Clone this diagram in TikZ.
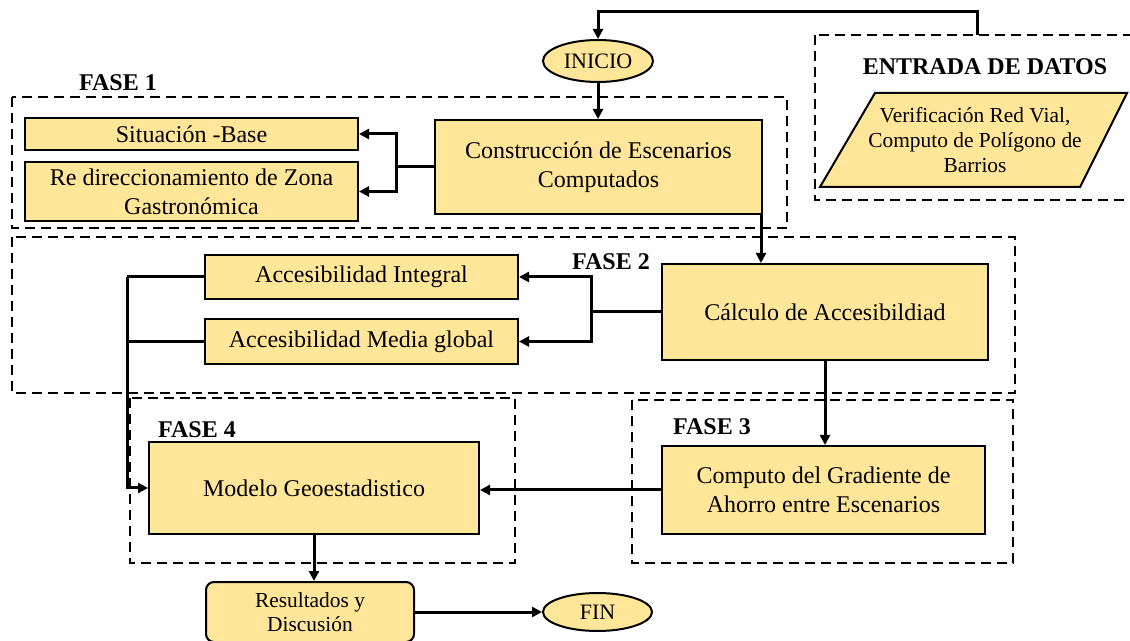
\documentclass[tikz,border=0pt]{standalone}
\usepackage{fontspec}
\setmainfont{Liberation Serif}
\usetikzlibrary{arrows.meta,shapes.geometric}
\definecolor{amarillo}{HTML}{FFE699}
\begin{document}
\begin{tikzpicture}[x=0.5pt,y=-0.5pt,
  caja/.style={draw,line width=1pt,fill=amarillo,align=center,inner sep=2pt,
    font=\fontsize{12}{14.5}\selectfont},
  elipse/.style={caja,ellipse,inner sep=0pt,font=\fontsize{11}{13}\selectfont},
  fase/.style={draw,line width=1pt,dash pattern=on 5pt off 3pt},
  etiq/.style={font=\fontsize{12}{14}\selectfont\bfseries},
  linea/.style={line width=1.5pt},
  flecha/.style={linea,-{Triangle[length=5pt,width=5pt]}}]
\useasboundingbox (0,0) rectangle (1130,641);
% fases
\draw[fase] (12,97) rectangle (787,228);
\draw[fase] (12,237) rectangle (1015,393);
\draw[fase] (632,400) rectangle (1013,563);
\draw[fase] (130,398) rectangle (515,563);
\draw[fase] (815,35) rectangle (1145,200);
\node[etiq] (f1) at (118,83) {FASE 1};
\node[etiq] (f2) at (611,262) {FASE 2};
\node[etiq] (f3) at (712,427) {FASE 3};
\node[etiq] (f4) at (197,430) {FASE 4};
\node[etiq] (entrada) at (985,67) {ENTRADA DE DATOS};
% entrada de datos
\draw[line width=1pt,fill=amarillo] (875,93) -- (1127,93) -- (1080,187) -- (820,187) -- cycle;
\node[align=center,font=\fontsize{10.7}{12.5}\selectfont] (datos) at (975,140)
  {Verificación Red Vial,\\Computo de Polígono de\\Barrios};
\coordinate (tap) at (977,35);
% cajas
\node[elipse,minimum width=55pt,minimum height=21pt] (inicio) at (598,61) {INICIO};
\node[caja,minimum width=166.5pt,minimum height=16pt] (sitbase) at (191.5,134) {Situación -Base};
\node[caja,minimum width=166.5pt,minimum height=29.5pt] (redir) at (191.5,191.5)
  {Re direccionamiento de Zona\\Gastronómica};
\node[caja,minimum width=163.5pt,minimum height=47pt] (constr) at (598.5,167)
  {Construcción de Escenarios\\Computados};
\node[caja,minimum width=156.5pt,minimum height=22pt] (integral) at (361.5,277) {Accesibilidad Integral};
\node[caja,minimum width=156.5pt,minimum height=22.5pt] (media) at (361.5,341.5) {Accesibilidad Media global};
\node[caja,minimum width=163pt,minimum height=48pt] (calculo) at (825,312) {Cálculo de Accesibildiad};
\node[caja,minimum width=161.5pt,minimum height=44pt] (gradiente) at (823.5,490)
  {Computo del Gradiente de\\Ahorro entre Escenarios};
\node[caja,minimum width=165pt,minimum height=46pt] (modelo) at (314,488) {Modelo Geoestadistico};
\node[caja,rounded corners=4pt,minimum width=104pt,minimum height=30pt,
  font=\fontsize{10.7}{12}\selectfont] (result) at (310,612) {Resultados y\\Discusión};
\node[elipse,minimum width=54.5pt,minimum height=19pt] (fin) at (597.5,612) {FIN};
% conectores
\draw[flecha] (tap) -- ++(0,-23) -| (inicio.north);
\draw[flecha] (inicio.south) -- (inicio.south |- constr.north);
\draw[linea] (constr.west) -- ++(-38,0) coordinate (b1);
\draw[flecha] (b1) |- (sitbase.east);
\draw[flecha] (b1) |- (redir.east);
\draw[flecha] ([xshift=-1pt]constr.south east) -- ([xshift=-1pt]constr.south east |- calculo.north);
\draw[linea] (calculo.west) -- ++(-70,0) coordinate (b2);
\draw[flecha] (b2) |- (integral.east);
\draw[flecha] (b2) |- (media.east);
\draw[linea] (integral.west) -- ++(-77,0) coordinate (b3);
\draw[linea] (media.west) -- (media.west -| b3);
\draw[flecha] (b3) |- (modelo.west);
\draw[flecha] (calculo.south) -- (calculo.south |- gradiente.north);
\draw[flecha] (gradiente.west) -- (gradiente.west -| modelo.east);
\draw[flecha] (modelo.south) -- (modelo.south |- result.north);
\draw[flecha] (result.east) -- (fin.west);
\end{tikzpicture}
\end{document}
